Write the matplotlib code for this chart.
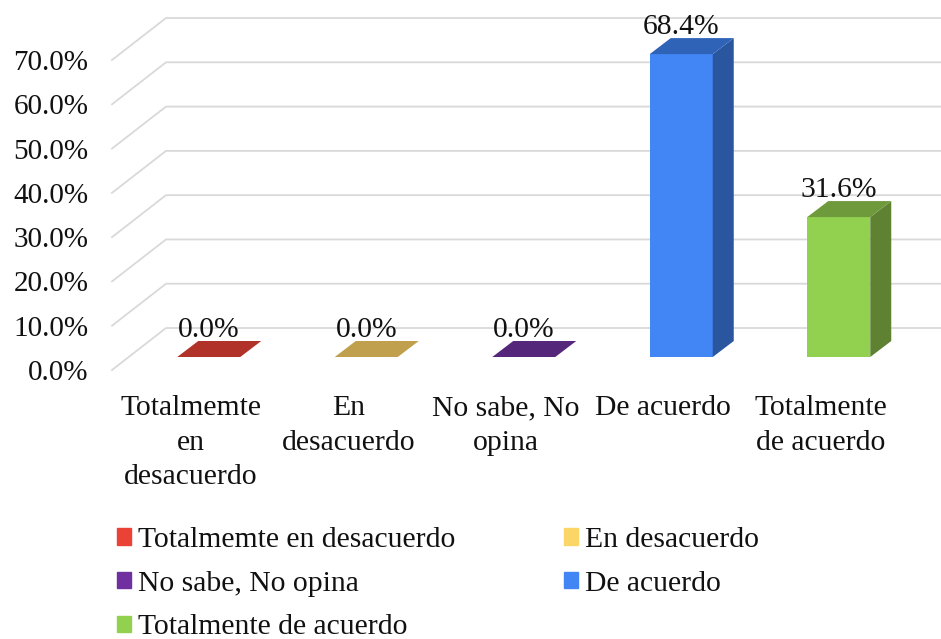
"""3D-style column chart of survey agreement shares."""

import matplotlib

matplotlib.use("Agg")
import matplotlib.pyplot as plt
from matplotlib.patches import Polygon, Rectangle

categories = ["Totalmemte en desacuerdo", "En desacuerdo", "No sabe, No opina", "De acuerdo", "Totalmente de acuerdo"]
tick_labels = ["Totalmemte\nen\ndesacuerdo", "En\ndesacuerdo", "No sabe, No\nopina", "De acuerdo", "Totalmente\nde acuerdo"]
values = [0.0, 0.0, 0.0, 68.4, 31.6]
y_ticks = [0, 10, 20, 30, 40, 50, 60, 70]

front_colors = ["#ea4335", "#fbd566", "#7030a0", "#4285f4", "#92d050"]
top_colors = ["#b03228", "#c0a04c", "#55277a", "#2f63b8", "#6f9a3c"]
side_colors = ["#8f2a20", "#9c823e", "#451f63", "#2a559f", "#5e8232"]

PX_X = 1 / 157.5  # data units per pixel
PX_Y = 1 / 4.43
WALL_X, WALL_Y = 54 * PX_X, 42 * PX_Y
SHIFT_X, SHIFT_Y = 18 * PX_X, 13 * PX_Y
DEPTH_X, DEPTH_Y = 21 * PX_X, 16 * PX_Y
BAR_W = 63 * PX_X
GRID = "#d9d9d9"

plt.rcParams["font.family"] = ["Liberation Serif", "DejaVu Serif"]
plt.rcParams["font.size"] = 21.3

fig = plt.figure(figsize=(9.41, 6.39), dpi=100)
ax = fig.add_axes([112 / 941, (639 - 370) / 639, 787.5 / 941, 310 / 639])
ax.set_xlim(-0.5, 4.5)
ax.set_ylim(0, 70)
for s in ax.spines.values():
    s.set_visible(False)

# side wall and back wall gridlines
x_left = -0.5
for v in y_ticks:
    ax.plot(
        [x_left, x_left + WALL_X, 4.5 + WALL_X],
        [v, v + WALL_Y, v + WALL_Y],
        color=GRID, lw=1.3, clip_on=False, zorder=1,
    )

for i, v in enumerate(values):
    x0 = i - BAR_W / 2 + SHIFT_X
    x1 = x0 + BAR_W
    y0 = SHIFT_Y
    y1 = SHIFT_Y + v
    if v > 0:
        ax.bar(i + SHIFT_X, v, BAR_W, bottom=SHIFT_Y, color=front_colors[i], clip_on=False, zorder=3)
        ax.add_patch(Polygon(
            [(x1, y0), (x1 + DEPTH_X, y0 + DEPTH_Y), (x1 + DEPTH_X, y1 + DEPTH_Y), (x1, y1)],
            color=side_colors[i], clip_on=False, zorder=3, lw=0,
        ))
    ax.add_patch(Polygon(
        [(x0, y1), (x1, y1), (x1 + DEPTH_X, y1 + DEPTH_Y), (x0 + DEPTH_X, y1 + DEPTH_Y)],
        color=top_colors[i], clip_on=False, zorder=3, lw=0,
    ))
    ax.annotate(
        f"{v:.1f}%", (i + SHIFT_X, y1), xytext=(0, 19.5), textcoords="offset points",
        ha="center", va="center", annotation_clip=False, color="#111111", zorder=4,
    )

ax.set_yticks(y_ticks)
ax.set_yticklabels([f"{v:.1f}%" for v in y_ticks], fontsize=21)
ax.set_xticks(range(len(categories)))
ax.set_xticklabels(tick_labels, linespacing=1.43)
ax.tick_params(axis="y", length=0, pad=17, labelcolor="#111111")
ax.tick_params(axis="x", length=0, pad=18, labelcolor="#111111")

# row-wise legend order needs the column-filled handle list reordered
order = [0, 2, 4, 1, 3]
handles = [Rectangle((0, 0), 1, 1, color=front_colors[i]) for i in order]
labels = [categories[i] for i in order]
fig.legend(
    handles, labels, ncol=2, frameon=False, loc="upper left",
    bbox_to_anchor=(117 / 941, 1 - 527 / 639), borderaxespad=0, borderpad=0,
    handlelength=0.47, handleheight=0.47, handletextpad=0.24,
    labelspacing=0.6, columnspacing=3.66, labelcolor="#111111",
)

fig.savefig("out.png", dpi=100)
